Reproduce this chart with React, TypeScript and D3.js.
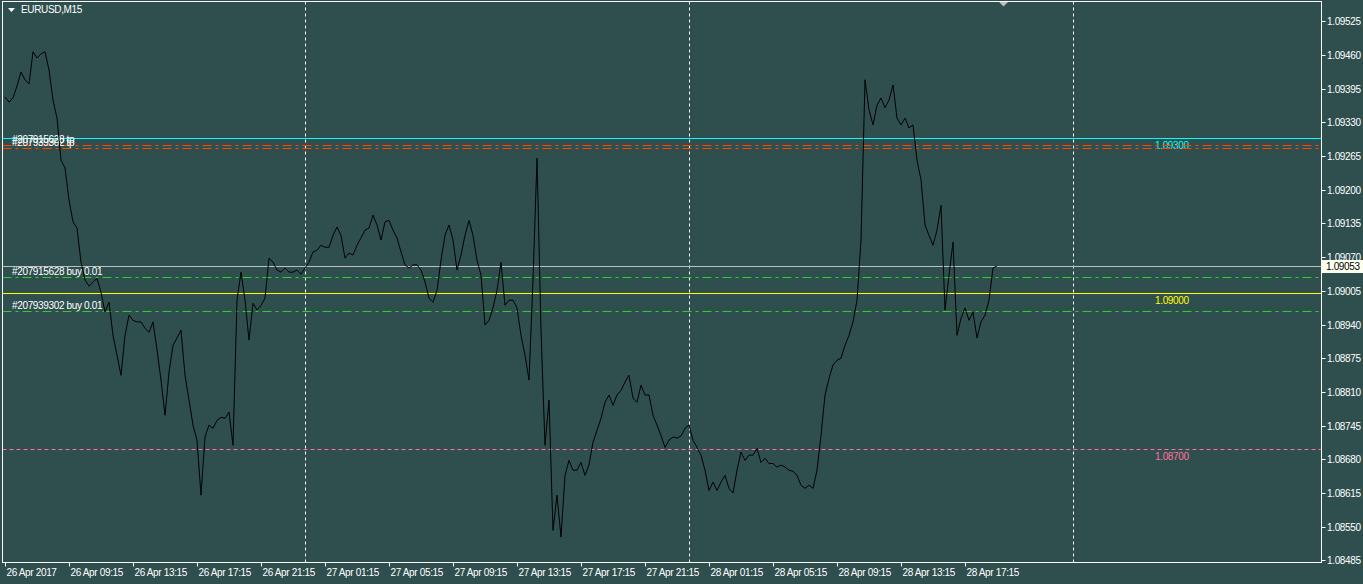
import React from "react";
import * as d3 from "d3";

// ---- data ----
const symbol = "EURUSD,M15";
const startTime = Date.UTC(2017, 3, 26, 5, 15);
const barMinutes = 15;
const closes = [
  1.09379, 1.09369, 1.09377, 1.094, 1.09427, 1.09412, 1.09404, 1.09466, 1.09454, 1.09462,
  1.09466, 1.09431, 1.09373, 1.09338, 1.09257, 1.09242, 1.0918, 1.09138, 1.09126, 1.0906,
  1.09026, 1.09014, 1.09022, 1.09029, 1.09002, 1.08964, 1.08983, 1.08919, 1.08881, 1.08842,
  1.08919, 1.08958, 1.08948, 1.08945, 1.08945, 1.08933, 1.08925, 1.08945, 1.08891, 1.08833,
  1.08765, 1.08848, 1.089, 1.08914, 1.08929, 1.08842, 1.08794, 1.08746, 1.08717, 1.08611,
  1.08723, 1.08746, 1.0874, 1.08755, 1.08761, 1.08759, 1.08771, 1.08707, 1.08987, 1.09041,
  1.08987, 1.0891, 1.08981, 1.08968, 1.08977, 1.08991, 1.09068, 1.0906, 1.09045, 1.09041,
  1.09049, 1.09041, 1.09041, 1.09045, 1.09037, 1.09049, 1.0906, 1.0908, 1.09083, 1.09093,
  1.09089, 1.09089, 1.09112, 1.09128, 1.09112, 1.09068, 1.09078, 1.09074, 1.09093, 1.09107,
  1.09122, 1.09126, 1.09151, 1.09132, 1.09103, 1.09138, 1.09141, 1.09122, 1.09107, 1.0908,
  1.09055, 1.09049, 1.09055, 1.09055, 1.09045, 1.09022, 1.08991, 1.08983, 1.09006, 1.09064,
  1.09112, 1.09132, 1.09103, 1.09045, 1.09074, 1.09112, 1.09141, 1.09112, 1.09064, 1.09035,
  1.08939, 1.08948, 1.08972, 1.09006, 1.0906, 1.08977, 1.08987, 1.08987, 1.08972, 1.08919,
  1.08881, 1.08833, 1.09026, 1.09261, 1.08929, 1.08707, 1.08794, 1.08543, 1.08611, 1.0853,
  1.08649, 1.08678, 1.08659, 1.08659, 1.08674, 1.08649, 1.08669, 1.08713, 1.08736, 1.08759,
  1.0879, 1.08804, 1.08784, 1.08804, 1.08813, 1.08829, 1.08842, 1.08798, 1.0879, 1.08823,
  1.08804, 1.08804, 1.08765, 1.08746, 1.08726, 1.08703, 1.08717, 1.08723, 1.08721, 1.08725,
  1.0874, 1.08746, 1.08717, 1.08703, 1.08688, 1.08659, 1.0862, 1.08636, 1.0862, 1.08636,
  1.08649, 1.08624, 1.08615, 1.08659, 1.08694, 1.08678, 1.08688, 1.08688, 1.08701, 1.08674,
  1.08682, 1.08672, 1.08672, 1.08665, 1.08669, 1.08665, 1.08659, 1.08657, 1.08649, 1.0863,
  1.08624, 1.0863, 1.08624, 1.08659, 1.08726, 1.08804, 1.08836, 1.08862, 1.08871, 1.08875,
  1.089, 1.08919, 1.08945, 1.08987, 1.09103, 1.09412, 1.09354, 1.09325, 1.09363, 1.09377,
  1.09358, 1.09373, 1.09402, 1.09338, 1.09325, 1.09338, 1.09319, 1.09325, 1.09257, 1.09219,
  1.09132, 1.09112, 1.09093, 1.09122, 1.0917, 1.08968, 1.09035, 1.09099, 1.08919, 1.08952,
  1.08972, 1.08948, 1.08964, 1.08914, 1.08945, 1.08958, 1.08987, 1.09049, 1.09053,
];
const priceTicks = [
  1.09525, 1.0946, 1.09395, 1.0933, 1.09265, 1.092, 1.09135, 1.0907, 1.09005,
  1.0894, 1.08875, 1.0881, 1.08745, 1.0868, 1.08615, 1.0855, 1.08485,
];
const bidPrice = 1.09053;
const orderIds = ["#207915628", "#207939302"];
const orderOpen = [1.09032, 1.08967];
const orderTp = [1.09286, 1.09281];
const orderLots = ["0.01", "0.01"];
const alertPrices = [1.093, 1.09, 1.087];

// ---- styles ----
const BG = "#2F4F4F";
const FONT = "'Liberation Sans', Arial, sans-serif";
const alertColors = ["#00FFFF", "#FFFF00", "#FF6E9E"];
const alertDash = [null, null, "4,3"];

const W = 1363;
const H = 584;
const L = 2.5, T = 1.5, R = 1321.5, B = 562.5;

export default function App() {
  const times = closes.map((_, i) => new Date(startTime + i * barMinutes * 60000));
  const n = closes.length;
  const x = d3.scaleUtc().domain([times[0], times[n - 1]]).range([5, 5 + 4 * (n - 1)]);
  const y = d3.scaleLinear().domain([1.08481, 1.09563]).range([B, T]);

  const line = d3
    .line<number>()
    .x((_, i) => x(times[i]))
    .y((d) => y(d));

  const labelTimes = times.filter((_, i) => i % 16 === 0);
  const fmtFirst = d3.utcFormat("%d %b %Y");
  const fmt = d3.utcFormat("%d %b %H:%M");
  const daySeps = d3.utcDay.range(times[0], x.invert(R));

  const textStyle: React.CSSProperties = {
    fontFamily: FONT,
    fontSize: 10,
    letterSpacing: "-0.35px",
  };

  return (
    <div style={{ position: "absolute", left: 0, top: 0, width: W, height: H }}>
      <svg width={W} height={H} style={{ display: "block", background: BG }}>
        <rect x={0} y={0} width={W} height={H} fill={BG} />
        {/* day separators */}
        {daySeps.map((d, i) => (
          <line
            key={"ds" + i}
            x1={Math.round(x(d)) + 0.5}
            x2={Math.round(x(d)) + 0.5}
            y1={T}
            y2={B}
            stroke="#FFFFFF"
            strokeDasharray="3,3"
          />
        ))}

        {/* alert lines */}
        {alertPrices.map((p, i) => (
          <g key={"al" + i}>
            <line
              x1={L}
              x2={R}
              y1={Math.round(y(p)) + 0.5}
              y2={Math.round(y(p)) + 0.5}
              stroke={alertColors[i]}
              strokeDasharray={alertDash[i] || undefined}
            />
            <text
              x={1155}
              y={Math.round(y(p)) + 11}
              fill={alertColors[i]}
              style={textStyle}
            >
              {p.toFixed(5)}
            </text>
          </g>
        ))}

        {/* order open lines */}
        {orderOpen.map((p, i) => (
          <g key={"oo" + i}>
            <line
              x1={L}
              x2={R}
              y1={Math.round(y(p)) + 0.5}
              y2={Math.round(y(p)) + 0.5}
              stroke="#32CD32"
              strokeDasharray="9,4,3,4"
            />
            <text x={12} y={Math.round(y(p)) - 2} fill="#FFFFFF" style={textStyle}>
              {`${orderIds[i]} buy ${orderLots[i]}`}
            </text>
          </g>
        ))}

        {/* order TP lines */}
        {orderTp.map((p, i) => (
          <g key={"tp" + i}>
            <line
              x1={L}
              x2={R}
              y1={Math.round(y(p)) + 0.5}
              y2={Math.round(y(p)) + 0.5}
              stroke="#FF4500"
              strokeWidth={1}
              strokeDasharray="9,4,3,4"
            />
            <text x={12} y={Math.round(y(p)) - 2} fill="#FFFFFF" style={textStyle}>
              {`${orderIds[i]} tp`}
            </text>
          </g>
        ))}

        {/* bid line */}
        <line
          x1={L}
          x2={R}
          y1={Math.round(y(bidPrice)) + 0.5}
          y2={Math.round(y(bidPrice)) + 0.5}
          stroke="#C0C0C0"
        />

        {/* price line */}
        <path d={line(closes) || ""} fill="none" stroke="#000000" strokeWidth={1} />

        {/* frame */}
        <rect x={L} y={T} width={R - L} height={B - T} fill="none" stroke="#FFFFFF" />

        {/* price axis */}
        {priceTicks.map((p, i) => {
          const yy = Math.round(y(p)) + 0.5;
          return (
            <g key={"pt" + i}>
              <line x1={R} x2={R + 4} y1={yy} y2={yy} stroke="#FFFFFF" />
              <text x={1327} y={yy + 3.5} fill="#FFFFFF" style={textStyle}>
                {p.toFixed(5)}
              </text>
            </g>
          );
        })}

        {/* bid label */}
        <rect
          x={R + 0.5}
          y={Math.round(y(bidPrice)) - 6}
          width={W - R}
          height={13}
          fill="#FFFFF0"
        />
        <text
          x={1326}
          y={Math.round(y(bidPrice)) + 4}
          fill="#000000"
          style={textStyle}
        >
          {bidPrice.toFixed(5)}
        </text>

        {/* time axis */}
        {labelTimes.map((t, i) => {
          const xx = Math.round(x(t)) + 0.5;
          return (
            <g key={"tt" + i}>
              <line x1={xx} x2={xx} y1={B} y2={B + 4} stroke="#FFFFFF" />
              <text x={xx + 1} y={576} fill="#FFFFFF" style={textStyle}>
                {i === 0 ? fmtFirst(t) : fmt(t)}
              </text>
            </g>
          );
        })}

        {/* title */}
        <path d="M8,8 L15,8 L11.5,12 Z" fill="#FFFFFF" />
        <text x={21} y={13} fill="#FFFFFF" style={textStyle}>
          {symbol}
        </text>

        {/* shift marker */}
        <path d="M999,2 L1008,2 L1003.5,6.5 Z" fill="#C0C0C0" />
      </svg>
    </div>
  );
}
